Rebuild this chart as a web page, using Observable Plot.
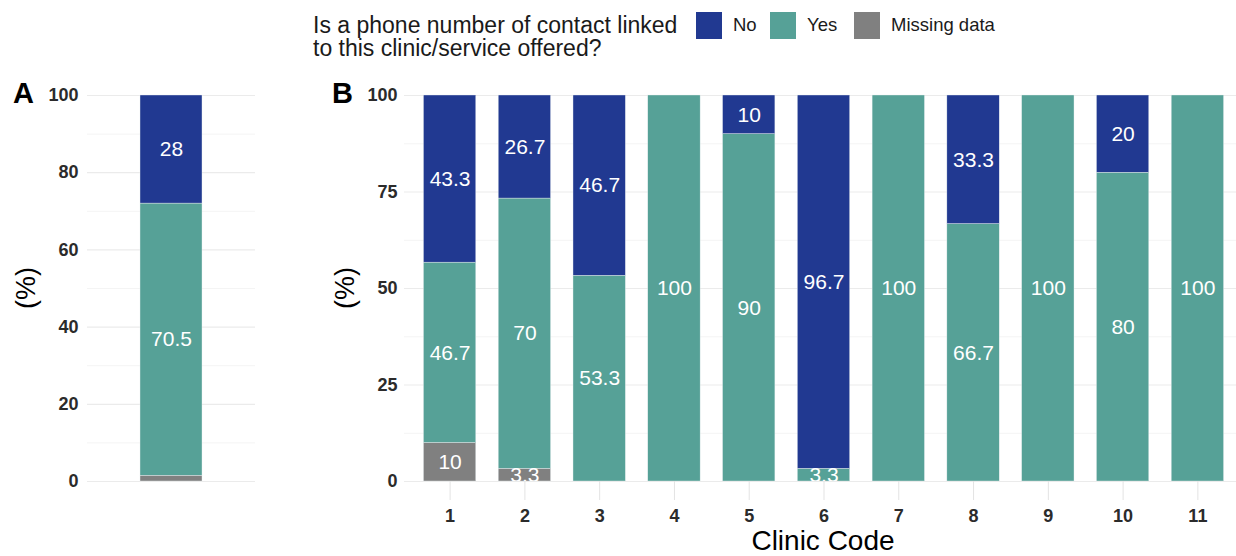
<!DOCTYPE html>
<html>
<head>
<meta charset="utf-8">
<script src="https://cdn.jsdelivr.net/npm/d3@7"></script>
<script src="https://cdn.jsdelivr.net/npm/@observablehq/plot@0.6"></script>
<style>
  body { margin: 0; background: #fff; font-family: "Liberation Sans", Arial, sans-serif; }
  #wrap { position: relative; width: 1236px; height: 556px; overflow: hidden; background: #fff; }
  .abs { position: absolute; white-space: nowrap; }
  .panel { font-weight: bold; font-size: 29px; line-height: 29px; color: #000; }
  .ylab { width: 120px; height: 34px; line-height: 34px; text-align: center; font-size: 27px; color: #000; transform: rotate(-90deg); transform-origin: 50% 50%; }
  .legtitle { font-size: 23px; line-height: 22px; height: 22px; color: #1a1a1a; }
  .sw { width: 26px; height: 27px; }
  .legtxt { font-size: 18.5px; line-height: 20px; color: #1a1a1a; }
  #plotA, #plotB { position: absolute; }
  #plotA svg, #plotB svg { max-width: none !important; }
</style>
</head>
<body>
<div id="wrap">
  <div class="abs legtitle" style="left:313px; top:14px;">Is a phone number of contact linked</div>
  <div class="abs legtitle" style="left:313px; top:37px;">to this clinic/service offered?</div>
  <div id="legend"></div>
  <div class="abs panel" style="left:13px; top:79px;">A</div>
  <div class="abs panel" style="left:332px; top:79px;">B</div>
  <div class="abs ylab" style="left:-34px; top:271px;">(%)</div>
  <div class="abs ylab" style="left:285px; top:271px;">(%)</div>
  <div class="abs" style="left:623px; top:529px; width:400px; text-align:center; font-size:28px; line-height:24px; color:#000;">Clinic Code</div>
  <div id="plotA" style="left:0px; top:60px; width:260px;"></div>
  <div id="plotB" style="left:300px; top:60px; width:943px;"></div>
</div>
<script>
// ---- data ----
const responses = ["No", "Yes", "Missing data"];
const responseColors = ["#213991", "#56a197", "#808080"];
const stackOrder = ["Missing data", "Yes", "No"];

const overallGroup = ["Overall"];
const overallNo = [28];
const overallYes = [70.5];
const overallMissing = [1.5];

const clinics = ["1", "2", "3", "4", "5", "6", "7", "8", "9", "10", "11"];
const clinicNo      = [43.3, 26.7, 46.7, 0,   10, 96.7, 0,   33.3, 0,   20, 0];
const clinicYes     = [46.7, 70,   53.3, 100, 90, 3.3,  100, 66.7, 100, 80, 100];
const clinicMissing = [10,   3.3,  0,    0,   0,  0,    0,   0,    0,   0,  0];

const yTicksA = [0, 20, 40, 60, 80, 100];
const yTicksB = [0, 25, 50, 75, 100];

// ---- build tables ----
function table(groups, no, yes, missing) {
  const rows = [];
  groups.forEach((g, i) => {
    rows.push({group: g, response: "Missing data", value: missing[i]});
    rows.push({group: g, response: "Yes", value: yes[i]});
    rows.push({group: g, response: "No", value: no[i]});
  });
  return rows;
}
const dataA = table(overallGroup, overallNo, overallYes, overallMissing);
const dataB = table(clinics, clinicNo, clinicYes, clinicMissing);

const minor = ticks => ticks.slice(1).map((t, i) => (t + ticks[i]) / 2);

// ---- legend ----
const legend = document.getElementById("legend");
const legendX = [696, 770, 854];
responses.forEach((r, i) => {
  const sw = document.createElement("div");
  sw.className = "abs sw";
  sw.style.left = legendX[i] + "px";
  sw.style.top = "12px";
  sw.style.background = responseColors[i];
  legend.appendChild(sw);
  const t = document.createElement("div");
  t.className = "abs legtxt";
  t.style.left = (legendX[i] + 37) + "px";
  t.style.top = "15px";
  t.textContent = r;
  legend.appendChild(t);
});

const labelText = d => d.value >= 2 ? String(d.value) : null;
const tickFont = {fontSize: 18, fontWeight: "bold", fill: "#2b2b2b"};

function panelMarks(data, ticks) {
  return [
    Plot.ruleY(minor(ticks), {stroke: "#f4f4f4", strokeWidth: 1}),
    Plot.ruleY(ticks, {stroke: "#ebebeb", strokeWidth: 1.2}),
    Plot.barY(data, Plot.stackY({
      x: "group", y: "value", fill: "response", order: stackOrder,
      stroke: "#e8eef0", strokeWidth: 0.4
    })),
    Plot.text(data, Plot.stackY({
      x: "group", y: "value", z: "response", order: stackOrder,
      text: labelText, fill: "white", fontSize: 21,
      fontFamily: "Liberation Sans, Arial, sans-serif", clip: true
    }))
  ];
}

const plotA = Plot.plot({
  width: 260, height: 440,
  marginTop: 35, marginBottom: 19, marginLeft: 87, marginRight: 5,
  style: {fontFamily: "Liberation Sans, Arial, sans-serif", background: "transparent", maxWidth: "none"},
  x: {domain: overallGroup, padding: 0.461, round: false, axis: null},
  y: {domain: [0, 100], axis: null},
  color: {domain: responses, range: responseColors},
  marks: [
    ...panelMarks(dataA, yTicksA),
    Plot.axisY({ticks: yTicksA, tickSize: 0, tickPadding: 9, label: null, ...tickFont})
  ]
});
document.getElementById("plotA").appendChild(plotA);

const plotB = Plot.plot({
  width: 943, height: 496,
  marginTop: 35, marginBottom: 75, marginLeft: 104, marginRight: 0,
  style: {fontFamily: "Liberation Sans, Arial, sans-serif", background: "transparent", overflow: "visible", maxWidth: "none"},
  x: {domain: clinics, paddingInner: 0.3, paddingOuter: 0.26, round: false, axis: null},
  y: {domain: [0, 100], axis: null},
  color: {domain: responses, range: responseColors},
  marks: [
    ...panelMarks(dataB, yTicksB),
    Plot.axisY({ticks: yTicksB, tickSize: 0, tickPadding: 7, label: null, ...tickFont}),
    Plot.axisX({tickSize: 19, tickFormat: () => "", stroke: "#e3e3e3", label: null}),
    Plot.axisX({tickSize: 0, tickPadding: 28, label: null, ...tickFont})
  ]
});
document.getElementById("plotB").appendChild(plotB);
</script>
</body>
</html>
